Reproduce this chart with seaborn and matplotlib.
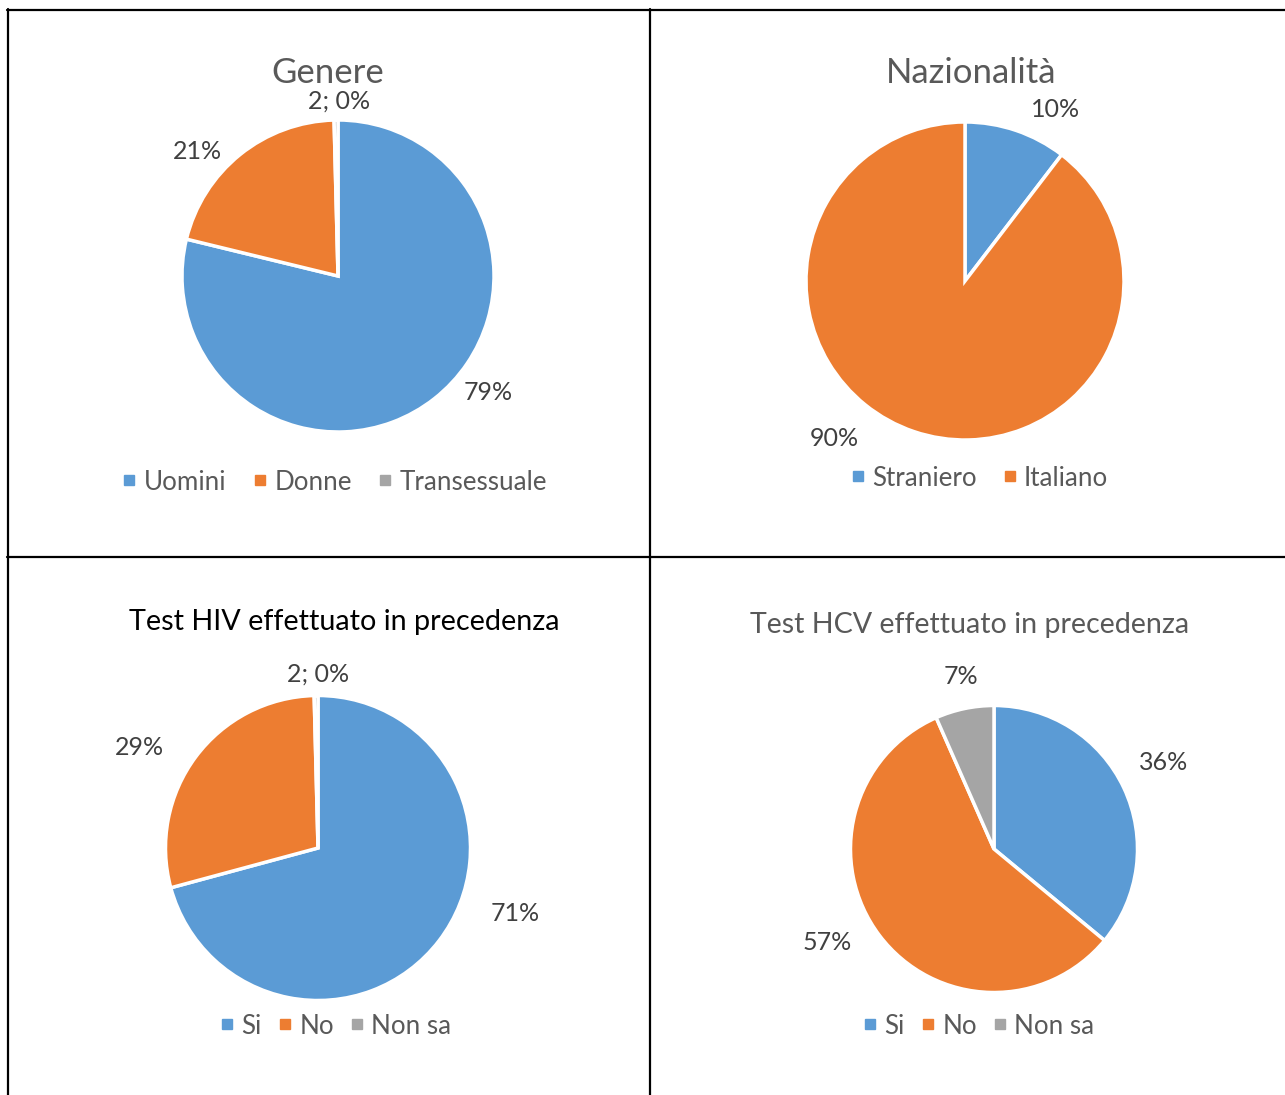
import matplotlib
matplotlib.use("Agg")
import matplotlib.pyplot as plt
from matplotlib.lines import Line2D
import seaborn as sns
import numpy as np

sns.set_theme(style="white")
plt.rcParams['font.family'] = ['Lato', 'DejaVu Sans']

# ---- data ----
genere_labels = ["Uomini", "Donne", "Transessuale"]
genere_values = [394, 104, 2]

naz_labels = ["Straniero", "Italiano"]
naz_values = [52, 448]

hiv_labels = ["Si", "No", "Non sa"]
hiv_values = [354, 144, 2]

hcv_labels = ["Si", "No", "Non sa"]
hcv_values = [180, 287, 33]

titles = ["Genere", "Nazionalità", "Test HIV effettuato in precedenza",
          "Test HCV effettuato in precedenza"]

colors = sns.color_palette(["#5B9BD5", "#ED7D31", "#A5A5A5"])

W, H = 1285, 1095
fig = plt.figure(figsize=(W / 100, H / 100), dpi=100)
fig.patch.set_facecolor("white")

# layout (pixels): center x, center y, radius, title pos, title size, title color,
# label positions (in radius units), legend pos, legend column spacing
panels = [
    dict(values=genere_values, labels=genere_labels, c=(338, 276), r=156,
         title=titles[0], tpos=(328, 73), tsize=25, tcolor="#595959",
         lpos=[(0.96, -0.75), (-0.90, 0.80), (0.01, 1.12)], leg=(335, 482),
         cs=1.05),
    dict(values=naz_values, labels=naz_labels, c=(965, 281), r=159,
         title=titles[1], tpos=(971, 73), tsize=25, tcolor="#595959",
         lpos=[(0.57, 1.08), (-0.82, -0.99)], leg=(980, 478), cs=1.0),
    dict(values=hiv_values, labels=hiv_labels, c=(318, 848), r=152.5,
         title=titles[2], tpos=(344, 622), tsize=20.7, tcolor="#000000",
         lpos=[(1.29, -0.43), (-1.17, 0.66), (0.0, 1.14)], leg=(336, 1026),
         cs=0.65),
    dict(values=hcv_values, labels=hcv_labels, c=(994, 849), r=143.5,
         title=titles[3], tpos=(970, 625), tsize=20.6, tcolor="#595959",
         lpos=[(1.18, 0.60), (-1.16, -0.65), (-0.23, 1.20)], leg=(979, 1026),
         cs=0.65),
]

for p in panels:
    cx, cy = p["c"]
    r = p["r"]
    ax = fig.add_axes([(cx - r) / W, 1 - (cy + r) / H, 2 * r / W, 2 * r / H])
    vals = np.array(p["values"], dtype=float)
    ax.pie(vals, colors=colors[:len(vals)], startangle=90, counterclock=False,
           radius=1, wedgeprops=dict(edgecolor="white", linewidth=2.5))
    ax.set_xlim(-1, 1)
    ax.set_ylim(-1, 1)
    ax.set_aspect("equal")
    ax.axis("off")
    pct = vals / vals.sum() * 100
    for v, pc, (lx, ly) in zip(p["values"], pct, p["lpos"]):
        s = f"{v}; {pc:.0f}%" if round(pc) == 0 else f"{pc:.0f}%"
        ax.text(lx, ly, s, ha="center", va="center", fontsize=18,
                color="#404040", clip_on=False)
    tx, ty = p["tpos"]
    fig.text(tx / W, 1 - ty / H, p["title"], ha="center", va="center",
             fontsize=p["tsize"], color=p["tcolor"])
    handles = [Line2D([], [], marker="s", linestyle="none", markersize=7.5,
                      markerfacecolor=colors[i], markeredgecolor=colors[i])
               for i in range(len(vals))]
    lx, ly = p["leg"]
    fig.legend(handles, p["labels"], loc="center",
               bbox_to_anchor=(lx / W, 1 - ly / H), ncol=len(vals),
               frameon=False, fontsize=18.7, handlelength=0.5,
               handletextpad=0.3, columnspacing=p["cs"], labelcolor="#595959",
               borderpad=0, borderaxespad=0)

# table grid lines
lw = 1.6
def hline(y, x0, x1):
    fig.add_artist(Line2D([x0 / W, x1 / W], [1 - y / H, 1 - y / H],
                          transform=fig.transFigure, color="black", lw=lw))
def vline(x, y0, y1):
    fig.add_artist(Line2D([x / W, x / W], [1 - y0 / H, 1 - y1 / H],
                          transform=fig.transFigure, color="black", lw=lw))

hline(10, 7, W)
hline(557, 7, W)
vline(8, 9, H)
vline(650, 9, H)

fig.savefig("out.png", dpi=100, facecolor="white")
